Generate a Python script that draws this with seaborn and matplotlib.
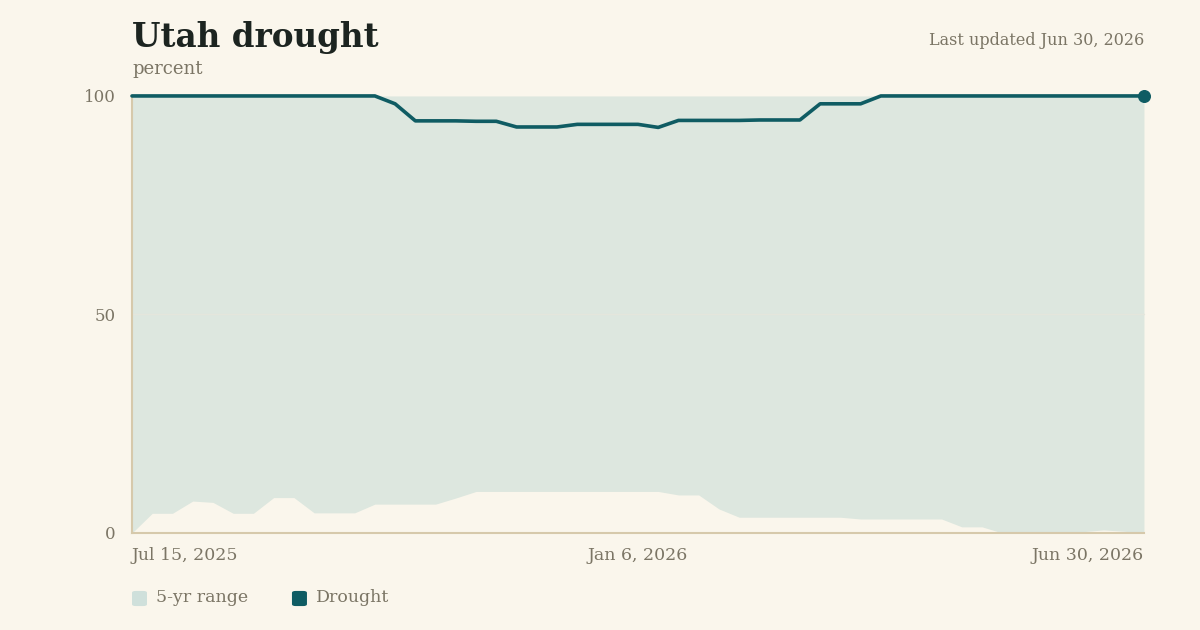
import numpy as np
import pandas as pd
import matplotlib
matplotlib.use('Agg')
import matplotlib.pyplot as plt
import seaborn as sns
from matplotlib.patches import FancyBboxPatch

# weekly dates, Jul 15 2025 -> Jun 30 2026
dates = pd.date_range('2025-07-15', periods=51, freq='7D')

drought = [100, 100, 100, 100, 100, 100, 100, 100, 100, 100,
           100, 100, 100, 98.2, 94.3, 94.3, 94.3, 94.2, 94.2, 92.9,
           92.9, 92.9, 93.5, 93.5, 93.5, 93.5, 92.8, 94.4, 94.4, 94.4,
           94.4, 94.5, 94.5, 94.5, 98.2, 98.2, 98.2, 100, 100, 100,
           100, 100, 100, 100, 100, 100, 100, 100, 100, 100,
           100]

range_low = [0, 4.5, 4.5, 7.3, 7.0, 4.5, 4.5, 8.1, 8.1, 4.6,
             4.6, 4.6, 6.6, 6.6, 6.6, 6.6, 8.0, 9.5, 9.5, 9.5,
             9.5, 9.5, 9.5, 9.5, 9.5, 9.5, 9.5, 8.7, 8.7, 5.5,
             3.6, 3.6, 3.6, 3.6, 3.6, 3.6, 3.2, 3.2, 3.2, 3.2,
             3.2, 1.4, 1.4, 0, 0.1, 0.2, 0.2, 0.3, 0.7, 0.4,
             0]
range_high = [100] * 51

df = pd.DataFrame({'date': dates, 'drought': drought,
                   'low': range_low, 'high': range_high})

bg = '#faf6ec'
fill_c = '#dde7df'
line_c = '#0f5c63'
axis_c = '#d6c9ab'
text_c = '#7b7565'
title_c = '#1c2420'

sns.set_style('white')
plt.rcParams['font.family'] = ['DejaVu Serif']

fig = plt.figure(figsize=(12, 6.3), dpi=100, facecolor=bg)
ax = fig.add_axes([0.11, 0.154, 0.8433, 0.6937])
ax.set_facecolor(bg)

ax.fill_between(df['date'], df['low'], df['high'], color=fill_c, lw=0, zorder=1)
ax.axhline(50, color='#e4e6dc', lw=1, zorder=1.5)
sns.lineplot(data=df, x='date', y='drought', color=line_c, lw=2.6, ax=ax, zorder=3)
for ln in ax.get_lines():
    ln.set_clip_on(False)
ax.scatter([df['date'].iloc[-1]], [df['drought'].iloc[-1]], s=70, color=line_c,
           zorder=4, clip_on=False)

ax.set_xlim(dates[0], dates[-1])
ax.set_ylim(0, 100)
ax.set_xlabel('')
ax.set_ylabel('')
for s in ['top', 'right']:
    ax.spines[s].set_visible(False)
for s in ['left', 'bottom']:
    ax.spines[s].set_color(axis_c)
    ax.spines[s].set_linewidth(1.5)

ax.set_yticks([0, 50, 100])
ax.set_yticklabels(['0', '50', '100'])
ax.tick_params(axis='y', length=0, pad=12, labelsize=12, labelcolor=text_c)

xt = [dates[0], pd.Timestamp('2026-01-06'), dates[-1]]
ax.set_xticks(xt)
ax.set_xticklabels(['Jul 15, 2025', 'Jan 6, 2026', 'Jun 30, 2026'])
ax.tick_params(axis='x', length=0, pad=10, labelsize=12.5, labelcolor=text_c)
labs = ax.get_xticklabels()
labs[0].set_ha('left')
labs[2].set_ha('right')

fig.text(0.11, 0.926, 'Utah drought', fontsize=23.5, fontweight='bold',
         color=title_c, ha='left', va='baseline')
fig.text(0.11, 0.882, 'percent', fontsize=13, color=text_c, ha='left', va='baseline')
fig.text(0.9533, 0.929, 'Last updated Jun 30, 2026', fontsize=11.5, color=text_c,
         ha='right', va='baseline')

# legend
for x0, c, lab in [(0.11, '#cfe0db', '5-yr range'), (0.2433, line_c, 'Drought')]:
    fig.patches.append(FancyBboxPatch((x0, 0.038), 0.0125, 0.024, boxstyle='round,pad=0,rounding_size=0.003',
                                      transform=fig.transFigure, color=c, lw=0))
    fig.text(x0 + 0.02, 0.051, lab, fontsize=12.5, color=text_c, ha='left', va='center')

fig.savefig('out.png', dpi=100, facecolor=bg)
